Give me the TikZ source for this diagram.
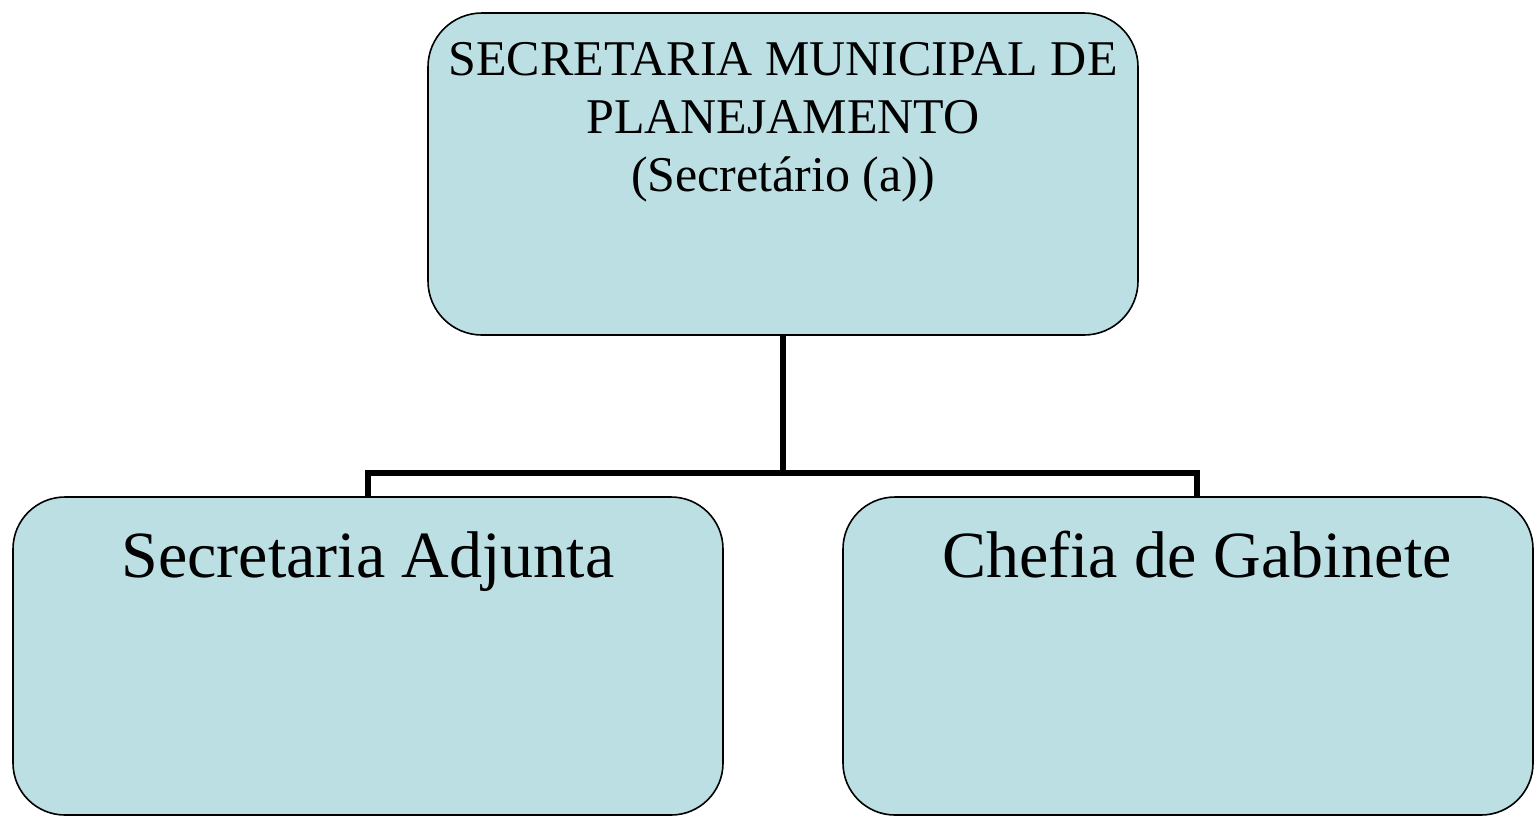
\documentclass[tikz,border=0pt]{standalone}
\usepackage{fontspec}
\setmainfont{Liberation Serif}
\definecolor{boxblue}{RGB}{187,223,227}

\tikzset{
  unit/.style={draw=black, fill=boxblue, line width=0.8pt, rounded corners=26pt, inner sep=0pt},
  headtext/.style={align=center, inner sep=0pt, font=\fontsize{25}{29}\selectfont},
  subtext/.style={inner sep=0pt, font=\fontsize{33}{38}\selectfont},
  link/.style={draw=black, line width=2.8pt}
}

\begin{document}
\begin{tikzpicture}[x=0.5pt, y=-0.5pt]
  % Fix the page to the reference size
  \useasboundingbox (0,0) rectangle (1535,816);

  % Top box
  \node[unit, rounded corners=27pt, minimum width=355pt, minimum height=161pt] (sec) at (783,174) {};
  \node[headtext, anchor=north] (sectxt) at (783,42)
    {SECRETARIA MUNICIPAL DE\\PLANEJAMENTO\\(Secret\'ario (a))};

  % Lower boxes
  \node[unit, minimum width=355pt, minimum height=159pt] (adj) at (368,656) {};
  \node[unit, minimum width=345pt, minimum height=159pt] (gab) at (1188,656) {};
  \node[subtext, anchor=base] (adjtxt) at (368,577) {Secretaria Adjunta};
  \node[subtext, anchor=base] (gabtxt) at (1197,577) {Chefia de Gabinete};

  % Connectors
  \coordinate (split) at (783,473);
  \coordinate (gabtop) at ([xshift=4.5pt]gab.north);
  \draw[link] (sec.south) -- (split);
  \draw[link] (adj.north) |- (split) -| (gabtop);
\end{tikzpicture}
\end{document}
